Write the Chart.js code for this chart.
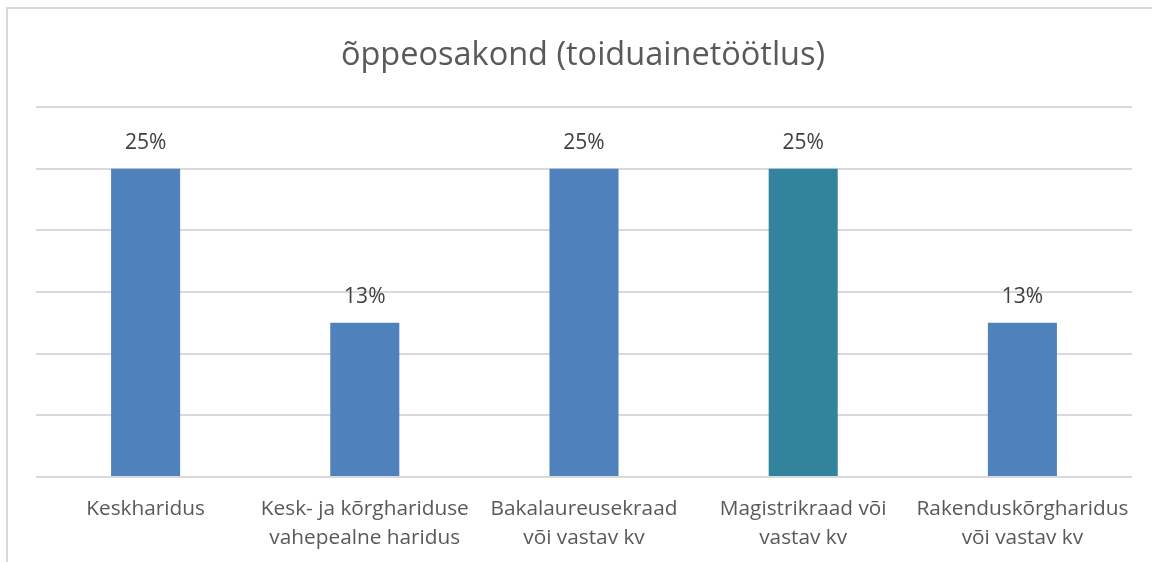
<!DOCTYPE html>
<html><head><meta charset="utf-8">
<script src="https://cdn.jsdelivr.net/npm/chart.js@4/dist/chart.umd.min.js"></script>
<style>
html,body{margin:0;padding:0;background:#fff;overflow:hidden;}
#frame{position:absolute;left:6px;top:7px;width:1200px;height:600px;border:2px solid #D9D9D9;box-sizing:border-box;}
#wrap{position:absolute;left:0;top:0;width:1152px;height:562px;}
</style></head>
<body>
<div id="frame"></div>
<div id="wrap"><canvas id="c" width="1152" height="562"></canvas></div>
<script>
const titleText = "õppeosakond (toiduainetöötlus)";
const categories = [
  "Keskharidus",
  ["Kesk- ja kõrghariduse","vahepealne haridus"],
  ["Bakalaureusekraad","või vastav kv"],
  ["Magistrikraad või","vastav kv"],
  ["Rakenduskõrgharidus","või vastav kv"]
];
const values = [0.25, 0.125, 0.25, 0.25, 0.125];
const valueLabels = ["25%","13%","25%","25%","13%"];
const barColors = ["#4F81BD","#4F81BD","#4F81BD","#31849B","#4F81BD"];

const FONT = "'Open Sans', sans-serif";
const TXT = "#595959";

const extras = {
  id:'extras',
  afterDatasetsDraw(chart){
    const ctx = chart.ctx;
    const meta = chart.getDatasetMeta(0);
    ctx.save();
    ctx.fillStyle = "#404040";
    ctx.font = "21px " + FONT;
    ctx.textAlign = "center";
    ctx.textBaseline = "middle";
    meta.data.forEach((el,i)=>{
      ctx.fillText(valueLabels[i], el.x, el.y - 26);
    });
    ctx.fillStyle = TXT;
    ctx.font = "32.5px " + FONT;
    ctx.fillText(titleText, (chart.chartArea.left+chart.chartArea.right)/2 - 1, 56);
    ctx.restore();
  }
};

new Chart(document.getElementById('c'), {
  type:'bar',
  data:{labels:categories, datasets:[{data:values, backgroundColor:barColors, barPercentage:0.315, categoryPercentage:1}]},
  options:{
    responsive:false, animation:false, devicePixelRatio:1,
    layout:{padding:{left:36,right:20,top:107,bottom:0}},
    plugins:{legend:{display:false}, tooltip:{enabled:false}, title:{display:false}},
    scales:{
      x:{
        grid:{display:false},
        border:{display:false},
        ticks:{color:TXT, font:{family:FONT,size:20.8,lineHeight:1.38}, padding:10, maxRotation:0, autoSkip:false},
        afterFit(s){ s.height = 85; }
      },
      y:{
        min:0, max:0.3,
        ticks:{display:false, stepSize:0.05},
        grid:{color:"#D9D9D9", lineWidth:2, drawTicks:false},
        border:{display:false},
        afterFit(s){ s.width = 0; }
      }
    }
  },
  plugins:[extras]
});
</script>
</body></html>
